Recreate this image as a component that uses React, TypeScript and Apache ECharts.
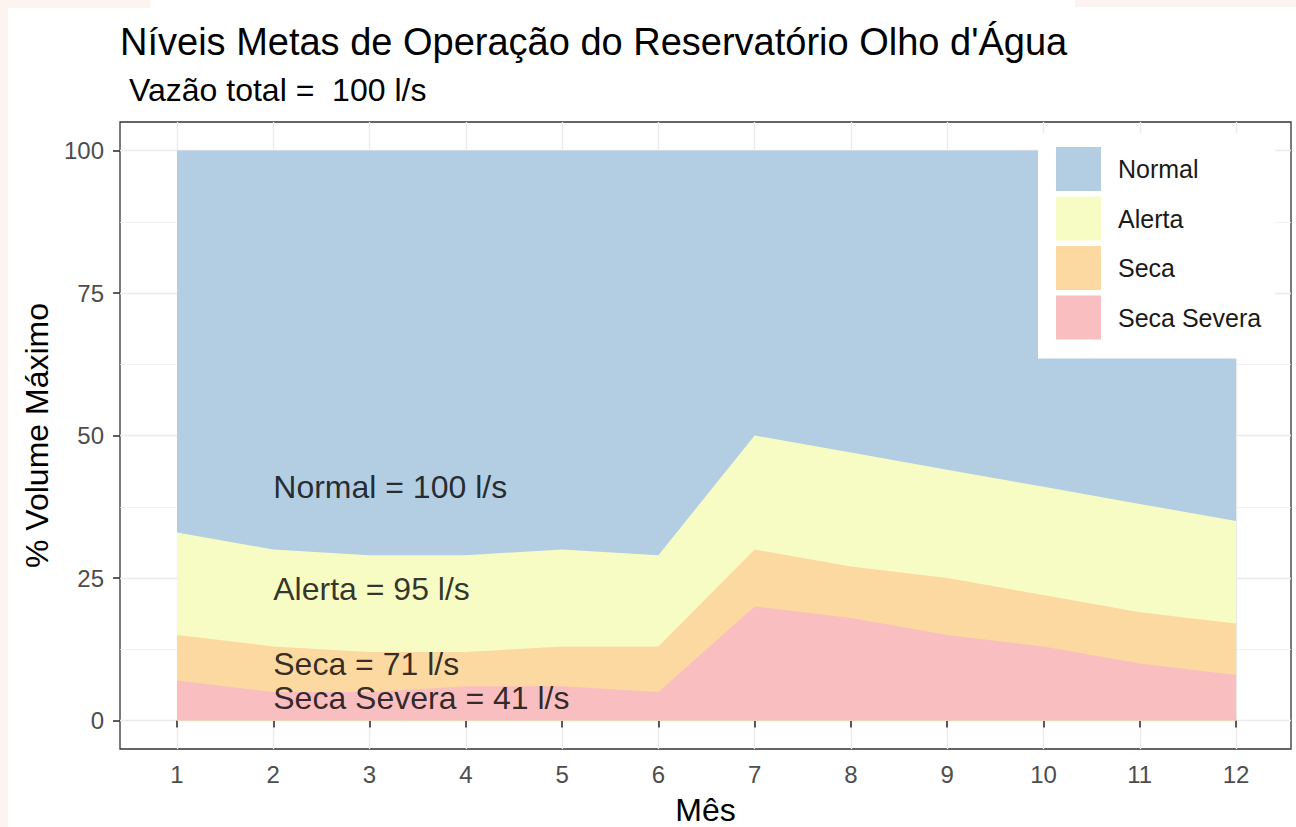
import React, { useEffect, useRef } from "react";
import * as echarts from "echarts";

const months = [1, 2, 3, 4, 5, 6, 7, 8, 9, 10, 11, 12];
const normalLevel = [100, 100, 100, 100, 100, 100, 100, 100, 100, 100, 100, 100];
const alertaLevel = [33, 30, 29, 29, 30, 29, 50, 47, 44, 41, 38, 35];
const secaLevel = [15, 13, 12, 12, 13, 13, 30, 27, 25, 22, 19, 17];
const secaSeveraLevel = [7, 5, 5, 6, 6, 5, 20, 18, 15, 13, 10, 8];

const seriesNames = ["Normal", "Alerta", "Seca", "Seca Severa"];
const seriesColors = ["#b3cde3", "#f7fcc4", "#fdd9a2", "#f9bebf"];

const xTicks = [1, 2, 3, 4, 5, 6, 7, 8, 9, 10, 11, 12];
const yTicks = [0, 25, 50, 75, 100];
const yMinorTicks = [12.5, 37.5, 62.5, 87.5];

const annotX = [2, 2, 2, 2];
const annotY = [41, 23, 10, 4];
const annotText = ["Normal = 100 l/s", "Alerta = 95 l/s", "Seca = 71 l/s", "Seca Severa = 41 l/s"];

const titleText = "Níveis Metas de Operação do Reservatório Olho d'Água";
const subtitleText = "Vazão total =  100 l/s";
const xTitle = "Mês";
const yTitle = "% Volume Máximo";

const FONT = "'Liberation Sans', Arial, sans-serif";

export default function App() {
  const ref = useRef<HTMLDivElement>(null);

  useEffect(() => {
    if (!ref.current) return;
    const chart = echarts.init(ref.current, null, { renderer: "svg" });
    const levels = [normalLevel, alertaLevel, secaLevel, secaSeveraLevel];

    const areaSeries = seriesNames.map((name, i) => ({
      name,
      type: "line",
      data: months.map((m, j) => [m, levels[i][j]]),
      symbol: "none",
      showSymbol: false,
      lineStyle: { width: 0 },
      itemStyle: { color: seriesColors[i] },
      areaStyle: { color: seriesColors[i], opacity: 1 },
      z: 2,
      silent: true,
    }));

    const option: any = {
      animation: false,
      backgroundColor: "#ffffff",
      textStyle: { fontFamily: FONT },
      graphic: [
        { type: "rect", shape: { x: 0, y: 0, width: 150, height: 8 }, style: { fill: "#fdf3f1" }, z: -10, silent: true },
        { type: "rect", shape: { x: 0, y: 0, width: 8, height: 827 }, style: { fill: "#fdf3f1" }, z: -10, silent: true },
        { type: "rect", shape: { x: 1075, y: 0, width: 221, height: 7 }, style: { fill: "#fdf3f1" }, z: -10, silent: true },
        {
          type: "text",
          x: 120,
          y: 42,
          style: { text: titleText, fontSize: 38, fontFamily: FONT, fill: "#000000", align: "left", verticalAlign: "middle" },
        },
        {
          type: "text",
          x: 129,
          y: 90,
          style: { text: subtitleText, fontSize: 32, fontFamily: FONT, fill: "#000000", align: "left", verticalAlign: "middle" },
        },
      ],
      grid: {
        left: 120,
        top: 122,
        width: 1171,
        height: 627,
        show: true,
        borderColor: "#333333",
        borderWidth: 1.3,
        backgroundColor: "transparent",
        containLabel: false,
        outerBoundsMode: "none",
      },
      legend: {
        data: seriesNames,
        orient: "vertical",
        left: 1038,
        top: 133,
        backgroundColor: "#ffffff",
        padding: [14, 14, 19, 18],
        itemWidth: 45,
        itemHeight: 44,
        itemGap: 5.5,
        icon: "rect",
        selectedMode: false,
        textStyle: { fontSize: 25, color: "#1a1a1a", fontFamily: FONT, padding: [0, 0, 0, 12] },
      },
      xAxis: {
        type: "value",
        min: 0.408,
        max: 12.571,
        name: xTitle,
        nameLocation: "middle",
        nameGap: 45,
        nameTextStyle: { fontSize: 32, color: "#000000", fontFamily: FONT },
        axisLine: { show: false },
        axisTick: { show: true, length: 7, customValues: xTicks, lineStyle: { color: "#333333", width: 1.6 } },
        axisLabel: { customValues: xTicks, fontSize: 24, color: "#4d4d4d", margin: 13, fontFamily: FONT },
        splitLine: { show: true, lineStyle: { color: "#ebebeb", width: 1.3 } },
      },
      yAxis: [
        {
          type: "value",
          min: -5,
          max: 105,
          name: yTitle,
          nameLocation: "middle",
          nameGap: 64,
          nameTextStyle: { fontSize: 32, color: "#000000", fontFamily: FONT },
          axisLine: { show: false },
          axisTick: { show: true, length: 7, customValues: yTicks, lineStyle: { color: "#333333", width: 1.6 } },
          axisLabel: { customValues: yTicks, fontSize: 24, color: "#4d4d4d", margin: 16, fontFamily: FONT },
          splitLine: { show: true, lineStyle: { color: "#ebebeb", width: 1.3 } },
        },
        {
          type: "value",
          min: -5,
          max: 105,
          position: "left",
          axisLine: { show: false },
          axisTick: { show: false, customValues: yMinorTicks },
          axisLabel: { show: false, customValues: yMinorTicks },
          splitLine: { show: true, lineStyle: { color: "#f0f0f0", width: 0.8 } },
        },
      ],
      series: [
        ...areaSeries,
        {
          name: "annotations",
          type: "scatter",
          symbolSize: 0,
          z: 5,
          silent: true,
          data: annotX.map((x, i) => ({ value: [x, annotY[i]], label: { formatter: annotText[i] } })),
          label: {
            show: true,
            position: "right",
            distance: 0,
            fontSize: 32,
            color: "#000000",
            fontFamily: FONT,
          },
        },
      ],
    };

    chart.setOption(option);
    return () => chart.dispose();
  }, []);

  return <div ref={ref} style={{ position: "absolute", left: 0, top: 0, width: 1296, height: 827 }} />;
}
